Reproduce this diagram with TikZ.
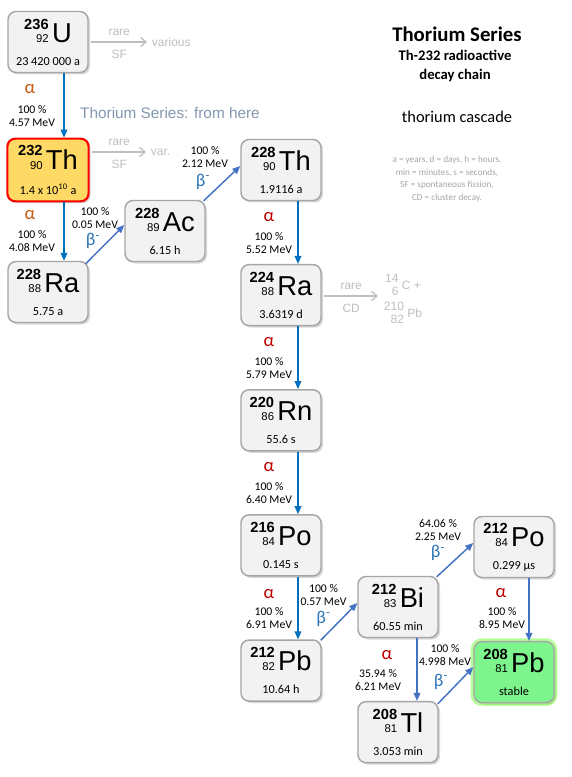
\documentclass[tikz,border=0pt]{standalone}
\usepackage{fontspec}
\setmainfont{Carlito}
\newfontfamily\arialfont{Liberation Sans}
\usepackage{tikz}
\usetikzlibrary{positioning,arrows.meta,shadows}

\definecolor{boxgray}{HTML}{F2F2F2}
\definecolor{edgegray}{HTML}{A6A6A6}
\definecolor{thgold}{HTML}{FFD966}
\definecolor{pbgreen}{HTML}{7EF58C}
\definecolor{decayblue}{HTML}{0070C0}
\definecolor{betablue}{HTML}{4472C4}
\definecolor{betatext}{HTML}{2E75B6}
\definecolor{alphaorange}{HTML}{C55A11}
\definecolor{alphared}{HTML}{C00000}
\definecolor{faint}{HTML}{BFBFBF}
\definecolor{legendgray}{HTML}{A6A6A6}
\definecolor{slate}{HTML}{8497B0}

% mass number, atomic number, symbol, half-life
\newcommand{\nuc}[4]{{\arialfont\begin{tabular}[b]{@{}r@{}}\fontsize{11}{10}\selectfont\bfseries #1\\\fontsize{8.5}{10}\selectfont #2\end{tabular}\hspace{2.5pt}\fontsize{20.5}{20}\selectfont #3}\\[7pt]#4}
\newcommand{\cdiso}[2]{\begin{tabular}{@{}r@{}}#1\\#2\end{tabular}}

\begin{document}
\begin{tikzpicture}[x=0.75pt, y=-0.75pt, node distance=47pt, >={Triangle[length=6pt,width=5pt]}, thick]
    % Styles
    \tikzstyle{nuclide}=[rectangle, draw=edgegray, line width=1.1pt, rounded corners=6pt, fill=boxgray, align=center, minimum width=60pt, minimum height=45.75pt, inner sep=0pt, font=\fontsize{9.2}{10}\selectfont, drop shadow={shadow xshift=1.5pt, shadow yshift=-1.5pt, opacity=.3}]
    \tikzstyle{parentbox}=[nuclide, draw=red, line width=1.6pt, fill=thgold, minimum width=61pt, minimum height=47pt]
    \tikzstyle{stablebox}=[nuclide, fill=pbgreen, preaction={draw=green!70!yellow, line width=5pt, opacity=.4}]
    \tikzstyle{decay}=[->, draw=decayblue, line width=1.1pt]
    \tikzstyle{betadecay}=[->, draw=betablue, line width=1.1pt]
    \tikzstyle{sfarrow}=[-{Straight Barb[length=4pt,width=7pt]}, draw=faint, line width=1pt]
    \tikzstyle{alphalbl}=[font=\fontsize{14}{14}\selectfont, text=alphared, inner sep=0pt]
    \tikzstyle{betalbl}=[font=\fontsize{13.5}{14}\selectfont, text=betatext, inner sep=0pt]
    \tikzstyle{energy}=[font=\fontsize{8.8}{9.75}\selectfont, align=center, inner sep=0pt]
    \tikzstyle{faintlbl}=[font=\arialfont\fontsize{9}{10}\selectfont, text=faint]

    \useasboundingbox[fill=white] (0,0) rectangle (571,777);

    % Title block
    \node[font=\bfseries\fontsize{15.6}{18}\selectfont] (title) at (457,34) {Thorium Series};
    \node[font=\bfseries\fontsize{11}{14.25}\selectfont, align=center] (subtitle) at (455,66) {Th-232 radioactive\\decay chain};
    \node[font=\fontsize{12.3}{14}\selectfont] (cascade) at (457,117) {thorium cascade};
    \node[font=\fontsize{6.9}{9.4}\selectfont, text=legendgray, align=center] (legend) at (447,179) {a = years, d = days, h = hours,\\min = minutes, s = seconds,\\SF = spontaneous fission,\\CD = cluster decay.};
    \node[font=\arialfont\fontsize{11.5}{14}\selectfont, text=slate] (fromhere) at (170,113) {Thorium Series: from here};

    % Left column
    \node[nuclide] (U) at (48,42) {\nuc{236}{92}{U}{23 420 000 a}};
    \node[parentbox] (Th) at (48,170) {\nuc{232}{90}{Th}{1.4 x 10\textsuperscript{10} a}};
    \node[nuclide] (Ra) at (48,292) {\nuc{228}{88}{Ra}{5.75 a}};
    \node[nuclide] (Ac) at (165,231) {\nuc{228}{89}{Ac}{6.15 h}};

    % Main column
    \node[nuclide] (Th2) at (281,170) {\nuc{228}{90}{Th}{1.9116 a}};
    \node[nuclide, below=of Th2] (Ra2) {\nuc{224}{88}{Ra}{3.6319 d}};
    \node[nuclide, below=of Ra2] (Rn) {\nuc{220}{86}{Rn}{55.6 s}};
    \node[nuclide, below=of Rn] (Po) {\nuc{216}{84}{Po}{0.145 s}};
    \node[nuclide, below=of Po] (Pb) {\nuc{212}{82}{Pb}{10.64 h}};

    % Branching at Bi
    \node[nuclide] (Bi) at (398,607) {\nuc{212}{83}{Bi}{60.55 min}};
    \node[nuclide, below=of Bi] (Tl) {\nuc{208}{81}{Tl}{3.053 min}};
    \node[nuclide] (Po2) at (514,547) {\nuc{212}{84}{Po}{0.299 µs}};
    \node[stablebox, below=of Po2] (Pb2) {\nuc{208}{81}{Pb}{stable}};

    % Side branches (rare)
    \coordinate (Uend) at (147,42);
    \draw[sfarrow] ([xshift=2pt]U.east) -- (Uend) node[faintlbl, midway, above=1pt] (Urare) {rare} node[faintlbl, midway, below=2pt] (Usf) {SF};
    \node[faintlbl, right] (Uvar) at (Uend) {various};
    \coordinate (Thend) at (146,152);
    \draw[sfarrow] ([xshift=2pt]Th.east |- Thend) -- (Thend) node[faintlbl, midway, above=1pt] (Thrare) {rare} node[faintlbl, midway, below=2pt] (Thsf) {SF};
    \node[faintlbl, right=0pt of Thend] (Thvar) {var.};
    \coordinate (CDend) at (378,296);
    \draw[sfarrow] ([xshift=2pt]Ra2.east |- CDend) -- (CDend) node[faintlbl, midway, above=1pt] (Rarare) {rare} node[faintlbl, midway, below=2pt] (Racd) {CD};
    \node[faintlbl, align=center] (CDprod) at (403,300) {\cdiso{14}{6} C +\\\cdiso{210}{82} Pb};

    % Alpha decays
    \draw[decay] ([xshift=12pt]U.south) -- ([xshift=12pt]Th.north)
        node[alphalbl, text=alphaorange, pos=.25, xshift=-25.5pt] (aU) {α}
        node[energy, pos=.66, xshift=-24pt] (eU) {100 \%\\4.57 MeV};
    \draw[decay] ([xshift=12pt]Th.south) -- ([xshift=12pt]Ra.north)
        node[alphalbl, text=alphaorange, pos=.22, xshift=-25.5pt] (aTh) {α}
        node[energy, pos=.66, xshift=-24pt] (eTh) {100 \%\\4.08 MeV};
    \draw[decay] ([xshift=12.75pt]Th2.south) -- ([xshift=12.75pt]Ra2.north)
        node[alphalbl, pos=.25, xshift=-21.75pt] (aTh2) {α}
        node[energy, pos=.66, xshift=-21.75pt] (eTh2) {100 \%\\5.52 MeV};
    \draw[decay] ([xshift=12.75pt]Ra2.south) -- ([xshift=12.75pt]Rn.north)
        node[alphalbl, pos=.25, xshift=-21.75pt] (aRa2) {α}
        node[energy, pos=.66, xshift=-21.75pt] (eRa2) {100 \%\\5.79 MeV};
    \draw[decay] ([xshift=12.75pt]Rn.south) -- ([xshift=12.75pt]Po.north)
        node[alphalbl, pos=.25, xshift=-21.75pt] (aRn) {α}
        node[energy, pos=.66, xshift=-21.75pt] (eRn) {100 \%\\6.40 MeV};
    \draw[decay] ([xshift=12.75pt]Po.south) -- ([xshift=12.75pt]Pb.north)
        node[alphalbl, pos=.27, xshift=-21.75pt] (aPo) {α}
        node[energy, pos=.66, xshift=-21.75pt] (ePo) {100 \%\\6.91 MeV};
    \draw[betadecay] ([xshift=14.25pt]Bi.south) -- ([xshift=14.25pt]Tl.north)
        node[alphalbl, pos=.27, xshift=-22.5pt] (aBi) {α}
        node[energy, pos=.67, xshift=-29.25pt] (eBi) {35.94 \%\\6.21 MeV};
    \draw[betadecay] ([xshift=11.25pt]Po2.south) -- ([xshift=11.25pt]Pb2.north)
        node[alphalbl, pos=.24, xshift=-21pt] (aPo2) {α}
        node[energy, pos=.64, xshift=-20.25pt] (ePo2) {100 \%\\8.95 MeV};

    % Beta decays
    \draw[betadecay] ([shift={(-3,3)}]Ra.north east) -- ([shift={(0,-6)}]Ac.west)
        node[betalbl, midway, shift={(-12,-3)}] (bRa) {β\textsuperscript{-}}
        node[energy, midway, shift={(-10,-26.5)}] (eRa) {100 \%\\0.05 MeV};
    \draw[betadecay] ([shift={(-2,1)}]Ac.north east) -- ([shift={(0,-4)}]Th2.west)
        node[betalbl, midway, shift={(-19,-1.5)}] (bAc) {β\textsuperscript{-}}
        node[energy, midway, shift={(-17,-26)}] (eAc) {100 \%\\2.12 MeV};
    \draw[betadecay] ([shift={(-1,1)}]Pb.north east) -- ([shift={(0,-4)}]Bi.west)
        node[betalbl, midway, shift={(-15.5,-3)}] (bPb) {β\textsuperscript{-}}
        node[energy, midway, shift={(-15.5,-27)}] (ePb) {100 \%\\0.57 MeV};
    \draw[betadecay] ([shift={(-2,1)}]Bi.north east) -- ([shift={(0,-4)}]Po2.west)
        node[betalbl, midway, shift={(-17,-6.5)}] (bBi) {β\textsuperscript{-}}
        node[energy, midway, shift={(-17,-30)}] (eBi2) {64.06 \%\\2.25 MeV};
    \draw[betadecay] ([shift={(-1,3)}]Tl.north east) -- ([shift={(0,-5)}]Pb2.west)
        node[betalbl, midway, shift={(-14.5,-4)}] (bTl) {β\textsuperscript{-}}
        node[energy, midway, shift={(-10.5,-30.5)}] (eTl) {100 \%\\4.998 MeV};

\end{tikzpicture}
\end{document}
